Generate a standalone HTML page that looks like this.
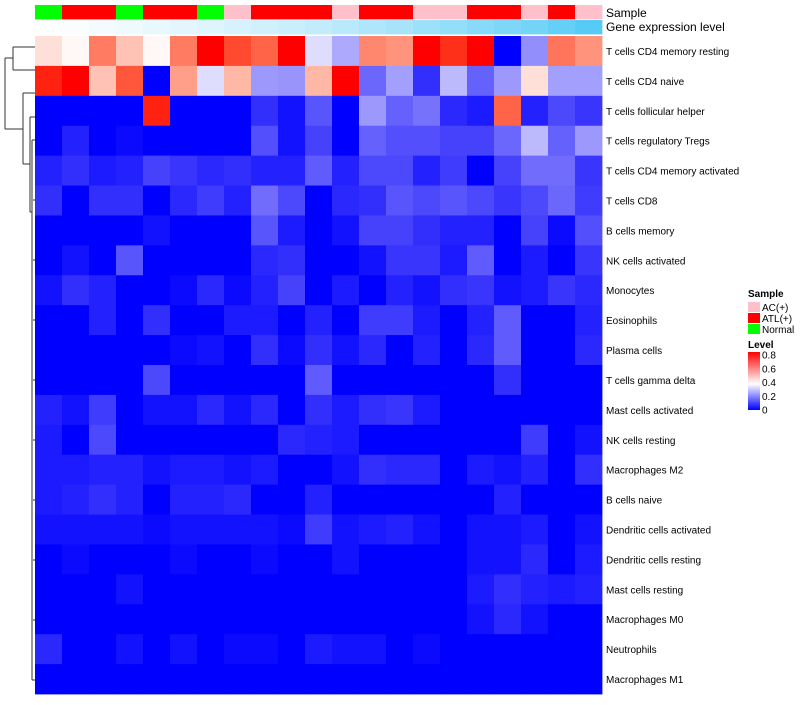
<!DOCTYPE html>
<html><head><meta charset="utf-8"><style>
body{margin:0;background:#fff;font-family:"Liberation Sans",sans-serif;}
svg text{font-family:"Liberation Sans",sans-serif;}
</style></head><body>
<svg id="chart" width="800" height="700" viewBox="0 0 800 700" xmlns="http://www.w3.org/2000/svg">
<g id="dendro" stroke="#333" stroke-width="1" fill="none">
<path d="M13,47H35M13,70H35M13,47V70"/>
<path d="M5,58H13M5,58V129M5,129H23"/>
<path d="M23,93H35M23,93V164M23,164H30"/>
<path d="M30,117H35M30,117V212M30,212H32"/>
<path d="M32,140H35M32,140V680M32,680H35"/>
<path d="M33,200H35M33,260H35M33,320H35M33,380H35M33,440H35M33,500H35M33,560H35M33,620H35"/>
</g>
<g id="cells"></g>
<g id="sample-bar"></g>
<g id="gene-bar"></g>
<g id="rowlabels"></g>
<text x="606" y="17" font-size="12">Sample</text>
<text x="606" y="31" font-size="12">Gene expression level</text>
<g>
<text x="748" y="297" font-size="10" font-weight="bold">Sample</text>
<rect x="748" y="302" width="12" height="10" fill="#ffc0cb"/>
<text x="762" y="311" font-size="10">AC(+)</text>
<rect x="748" y="313" width="12" height="10" fill="#ff0000"/>
<text x="762" y="322" font-size="10">ATL(+)</text>
<rect x="748" y="324" width="12" height="10" fill="#00ff00"/>
<text x="762" y="333" font-size="10">Normal</text>
<text x="748" y="348" font-size="10" font-weight="bold">Level</text>
<defs><linearGradient id="lg" x1="0" y1="1" x2="0" y2="0"><stop offset="0" stop-color="#0000ff"/><stop offset="0.45" stop-color="#ffffff"/><stop offset="1" stop-color="#ff0000"/></linearGradient></defs>
<rect x="748" y="352" width="12" height="58" fill="url(#lg)"/>
<g id="levelticks"></g>
</g>
</svg>
<script>
const rowNames=["T cells CD4 memory resting","T cells CD4 naive","T cells follicular helper","T cells regulatory  Tregs","T cells CD4 memory activated","T cells CD8","B cells memory","NK cells activated","Monocytes","Eosinophils","Plasma cells","T cells gamma delta","Mast cells activated","NK cells resting","Macrophages M2","B cells naive","Dendritic cells activated","Dendritic cells resting","Mast cells resting","Macrophages M0","Neutrophils","Macrophages M1"];
const sampleGroups=["Normal","ATL(+)","ATL(+)","Normal","ATL(+)","ATL(+)","Normal","AC(+)","ATL(+)","ATL(+)","ATL(+)","AC(+)","ATL(+)","ATL(+)","AC(+)","AC(+)","ATL(+)","ATL(+)","AC(+)","ATL(+)","AC(+)"];
const geneLevel=[0,0.03,0.06,0.09,0.12,0.15,0.18,0.22,0.26,0.3,0.34,0.39,0.44,0.49,0.55,0.6,0.66,0.72,0.78,0.86,0.94];
const levelTicks=[0,0.2,0.4,0.6,0.8];
const v1=[0.45,0.41,0.62,0.5,0.41,0.62,0.8,0.7,0.66,0.8,0.37,0.27,0.6,0.58,0.8,0.74,0.8,0,0.22,0.63,0.58];
const v2=[0.76,0.8,0.5,0.68,0,0.56,0.37,0.52,0.24,0.23,0.52,0.8,0.15,0.25,0.06,0.3,0.14,0.24,0.45,0.25,0.25];
const v3=[0,0,0,0,0.76,0,0,0,0.06,0.02,0.12,0,0.24,0.14,0.17,0.05,0.03,0.66,0.04,0.1,0.07];
const v4=[0,0.04,0,0.01,0,0,0,0,0.11,0.02,0.09,0,0.14,0.11,0.11,0.09,0.09,0.15,0.3,0.14,0.24];
const v5=[0.04,0.06,0.03,0.04,0.09,0.07,0.05,0.06,0.04,0.04,0.13,0.04,0.1,0.1,0.04,0.08,0,0.09,0.16,0.16,0.07];
const v6=[0.06,0,0.06,0.06,0,0.05,0.08,0.04,0.16,0.1,0,0.05,0.06,0.12,0.1,0.12,0.1,0.07,0.1,0.15,0.08];
const v7=[0,0,0,0,0.02,0,0,0,0.12,0.03,0,0.02,0.09,0.09,0.06,0.04,0.04,0,0.09,0.01,0.11];
const v8=[0,0.02,0,0.12,0,0,0,0,0.05,0.06,0,0,0.02,0.07,0.07,0.03,0.13,0,0.03,0,0.07];
const v9=[0.02,0.06,0.04,0,0,0.01,0.05,0.01,0.04,0.09,0,0.03,0,0.04,0.02,0.06,0.07,0.02,0.03,0.07,0.05];
const v10=[0,0,0.04,0,0.06,0,0,0.03,0.03,0,0.04,0,0.08,0.08,0.03,0,0.04,0.13,0,0,0.04];
const v11=[0,0,0,0,0,0.01,0.02,0,0.06,0.01,0.06,0.02,0.05,0,0.04,0,0.05,0.13,0,0,0.05];
const v12=[0,0,0,0,0.1,0,0,0,0,0,0.13,0,0,0,0,0,0,0.06,0,0,0];
const v13=[0.04,0.02,0.08,0,0.02,0.02,0.05,0.02,0.05,0,0.06,0.03,0.06,0.07,0.03,0,0,0,0,0,0];
const v14=[0.03,0,0.1,0,0,0,0,0,0,0.05,0.04,0.03,0,0,0,0,0,0,0.08,0,0.02];
const v15=[0.03,0.03,0.04,0.04,0.02,0.03,0.03,0.02,0.03,0,0,0.02,0.06,0.05,0.05,0,0.03,0.02,0.04,0,0.06];
const v16=[0.03,0.04,0.06,0.04,0,0.04,0.04,0.05,0,0,0.04,0,0,0,0,0,0,0.04,0,0,0];
const v17=[0.02,0.02,0.02,0.02,0.01,0.02,0.02,0.02,0.02,0.01,0.08,0.02,0.03,0.04,0.02,0,0.02,0.02,0.03,0,0.02];
const v18=[0,0.01,0,0,0,0.01,0,0,0.01,0,0,0.02,0,0,0,0,0.02,0.02,0.05,0,0.03];
const v19=[0,0,0,0.02,0,0,0,0,0,0,0,0,0,0,0,0,0.03,0.06,0.04,0.03,0.04];
const v20=[0,0,0,0,0,0,0,0,0,0,0,0,0,0,0,0,0.02,0.05,0.02,0,0];
const v21=[0.05,0,0,0.02,0,0.02,0,0.01,0.01,0,0.03,0.02,0.02,0,0.01,0,0,0,0,0,0];
const v22=[0,0,0,0,0,0,0,0,0,0,0,0,0,0,0,0,0,0,0,0,0];
const values=[v1,v2,v3,v4,v5,v6,v7,v8,v9,v10,v11,v12,v13,v14,v15,v16,v17,v18,v19,v20,v21,v22];

const NS="http://www.w3.org/2000/svg";
const X0=35,X1=602,Y0=36,Y1=694;
const nc=sampleGroups.length,nr=rowNames.length;
const cw=(X1-X0)/nc,rh=(Y1-Y0)/nr;
const xPos=i=>X0+i*cw;
const yPos=j=>Y0+j*rh;
function col(v){
  const m=0.4;let r,g,b;
  if(v<=m){const t=Math.pow(Math.max(0,v/m),0.85);r=255*t*0.93+18*t*(1-t);g=255*t*0.93;b=255-10*t*(1-t);if(t>=1){r=g=b=255;}}
  else{const t=Math.min(1,(v-m)/(0.8-m));r=255;g=255*Math.pow(1-t,0.8)*(1-0.15*t);b=255*Math.pow(1-t,1.2);}
  return `rgb(${r|0},${g|0},${b|0})`;
}
const sampleColor={"AC(+)":"#ffc0cb","ATL(+)":"#ff0000","Normal":"#00ff00"};
function geneCol(t){const r=255+(76-255)*t,g=255+(200-255)*t,b=255+(246-255)*t;return `rgb(${r|0},${g|0},${b|0})`;}
function rect(parent,x,y,w,h,fill){const r=document.createElementNS(NS,"rect");r.setAttribute("x",x);r.setAttribute("y",y);r.setAttribute("width",w+0.4);r.setAttribute("height",h+0.4);r.setAttribute("fill",fill);parent.appendChild(r);return r;}
const cells=document.getElementById("cells");
values.forEach((row,j)=>row.forEach((v,i)=>{
  const r=rect(cells,xPos(i),yPos(j),cw,rh,col(v));
  
  
}));
const sb=document.getElementById("sample-bar"),gb=document.getElementById("gene-bar");
sampleGroups.forEach((s,i)=>{
  const r=rect(sb,xPos(i),5,cw,14,sampleColor[s]);
  
  
});
geneLevel.forEach((g,i)=>{
  const r=rect(gb,xPos(i),20,cw,14,geneCol(g));
  
  
});
const rl=document.getElementById("rowlabels");
rowNames.forEach((n,j)=>{
  const t=document.createElementNS(NS,"text");
  t.setAttribute("x",606);t.setAttribute("y",yPos(j)+rh/2+4);t.setAttribute("font-size","10");
  t.setAttribute("xml:space","preserve");
  t.textContent=n;
  
  
  rl.appendChild(t);
});
const lt=document.getElementById("levelticks");
levelTicks.forEach(v=>{
  const y=410-(v/0.8)*55;
  const t=document.createElementNS(NS,"text");
  t.setAttribute("x",762);t.setAttribute("y",y+3.5);t.setAttribute("font-size","10");
  t.textContent=String(v);
  
  
  lt.appendChild(t);
});
</script>
</body></html>
